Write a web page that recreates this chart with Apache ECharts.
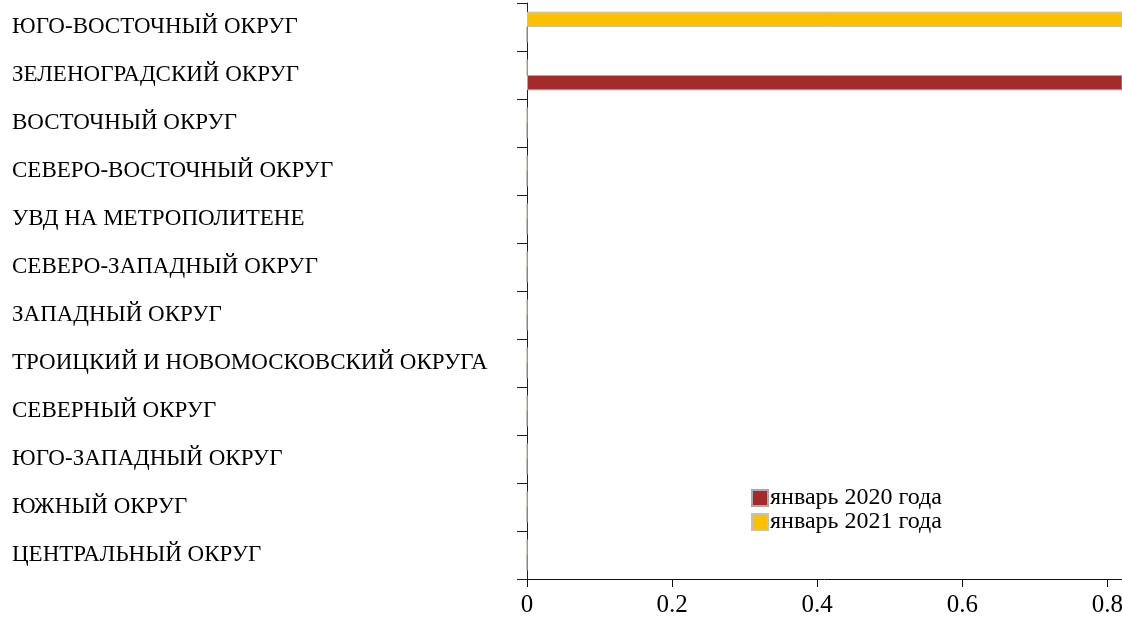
<!DOCTYPE html>
<html>
<head>
<meta charset="utf-8">
<script src="https://cdn.jsdelivr.net/npm/echarts@6/dist/echarts.min.js"></script>
<style>html,body{margin:0;padding:0;background:#fff;overflow:hidden}#c{width:1122px;height:618px}</style>
</head>
<body>
<div id="c"></div>
<script>
var categories = [
  'ЦЕНТРАЛЬНЫЙ ОКРУГ',
  'ЮЖНЫЙ ОКРУГ',
  'ЮГО-ЗАПАДНЫЙ ОКРУГ',
  'СЕВЕРНЫЙ ОКРУГ',
  'ТРОИЦКИЙ И НОВОМОСКОВСКИЙ ОКРУГА',
  'ЗАПАДНЫЙ ОКРУГ',
  'СЕВЕРО-ЗАПАДНЫЙ ОКРУГ',
  'УВД НА МЕТРОПОЛИТЕНЕ',
  'СЕВЕРО-ВОСТОЧНЫЙ ОКРУГ',
  'ВОСТОЧНЫЙ ОКРУГ',
  'ЗЕЛЕНОГРАДСКИЙ ОКРУГ',
  'ЮГО-ВОСТОЧНЫЙ ОКРУГ'
];
var seriesNames = ['январь 2020 года', 'январь 2021 года'];
var values2020 = [0, 0, 0, 0, 0, 0, 0, 0, 0, 0, 1, 0];
var values2021 = [0, 0, 0, 0, 0, 0, 0, 0, 0, 0, 0, 1];
var xTicks = [0, 0.2, 0.4, 0.6, 0.8];

var font = 'Liberation Serif, Times New Roman, serif';
var chart = echarts.init(document.getElementById('c'), null, {renderer: 'canvas'});
chart.setOption({
  animation: false,
  textStyle: {fontFamily: font},
  grid: {left: 527, right: 0, top: 3, bottom: 39, containLabel: false, outerBoundsMode: 'none'},
  legend: {
    orient: 'vertical', left: 746, top: 481, itemWidth: 16, itemHeight: 16, itemGap: 0,
    icon: 'rect',
    textStyle: {fontFamily: font, fontSize: 24, color: '#000', padding: [0, 0, 0, -3]},
    data: seriesNames
  },
  xAxis: {
    type: 'value', min: 0, max: 0.82, interval: 0.2,
    axisLine: {show: true, lineStyle: {color: '#111', width: 1}},
    axisTick: {show: true, length: 8, lineStyle: {color: '#111'}},
    splitLine: {show: false},
    axisLabel: {
      fontFamily: font, fontSize: 25, color: '#000', margin: 14,
      showMaxLabel: false,
      formatter: function (v) { var r = Math.round(v * 10) / 10; return xTicks.indexOf(r) >= 0 ? String(r) : ''; }
    }
  },
  yAxis: {
    type: 'category', data: categories,
    axisLine: {show: true, lineStyle: {color: '#222', width: 1}},
    axisTick: {show: true, length: 10, lineStyle: {color: '#222'}},
    axisLabel: {fontFamily: font, fontSize: 23, color: '#000', align: 'left', margin: 515}
  },
  series: [
    {name: seriesNames[1], type: 'bar', data: values2021, barGap: '0%', barCategoryGap: '36%',
     itemStyle: {color: '#fbc100', borderColor: '#c8c0b0', borderWidth: 1}},
    {name: seriesNames[0], type: 'bar', data: values2020, barGap: '0%', barCategoryGap: '36%',
     itemStyle: {color: '#a52a2a', borderColor: '#b0a8a8', borderWidth: 1}}
  ]
});
</script>
</body>
</html>
